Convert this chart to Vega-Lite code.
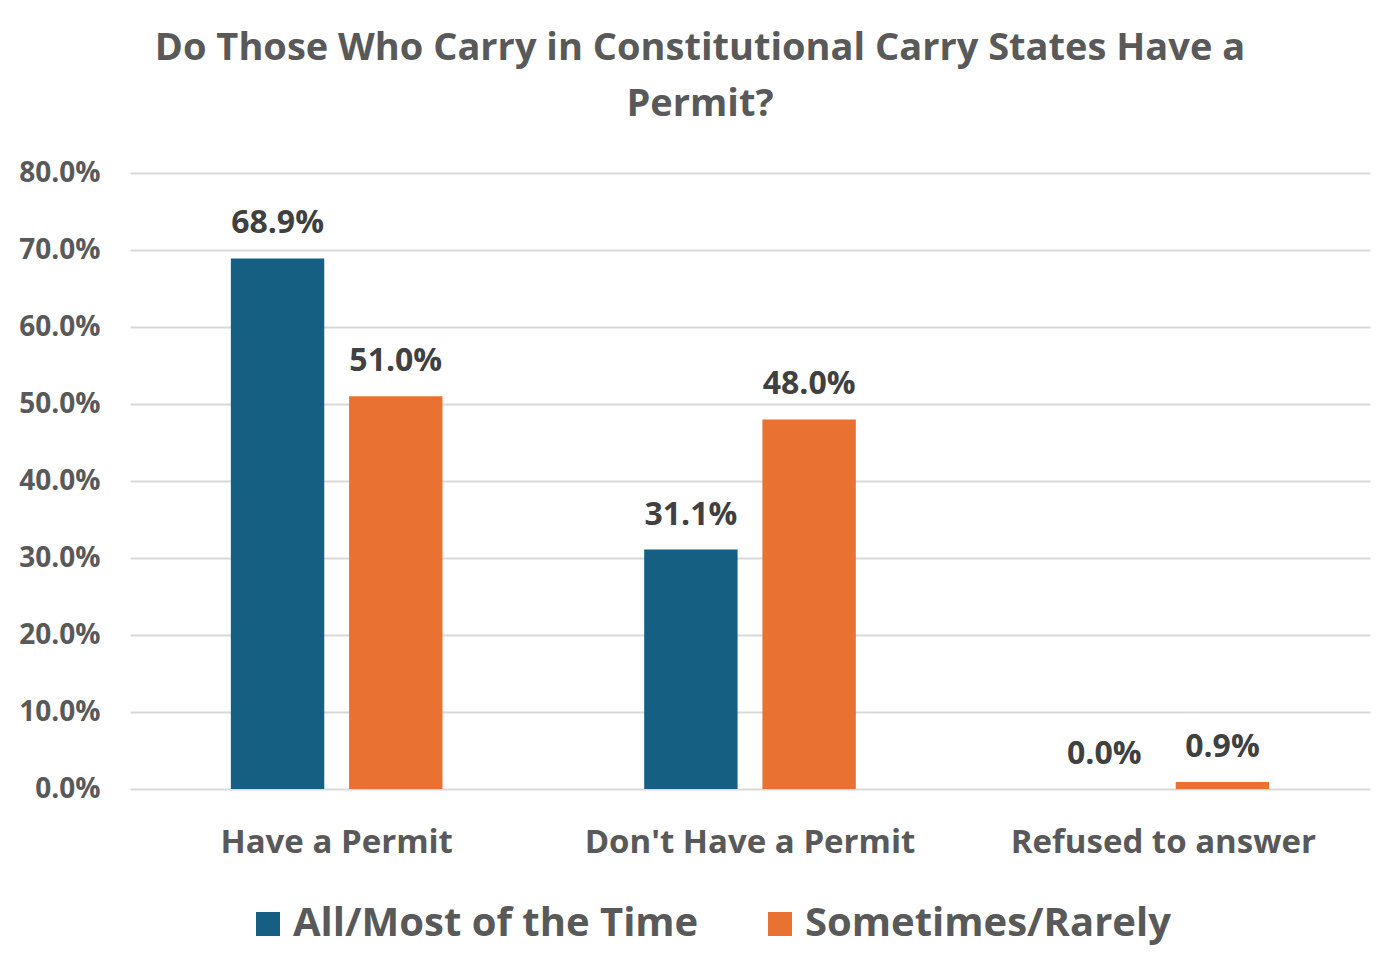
{
  "$schema": "https://vega.github.io/schema/vega-lite/v6.json",
  "autosize": "none",
  "width": 1240,
  "height": 616,
  "padding": {"left": 130, "top": 173, "right": 30, "bottom": 188},
  "background": "white",
  "title": {
    "text": ["Do Those Who Carry in Constitutional Carry States Have a", "Permit?"],
    "fontSize": 38,
    "fontWeight": "bold",
    "font": "Open Sans",
    "color": "#595959",
    "lineHeight": 56,
    "anchor": "middle",
    "dx": -50,
    "offset": 35
  },
  "data": {
    "values": [
      {"answer": "Have a Permit", "group": "All/Most of the Time", "share": 0.689},
      {"answer": "Have a Permit", "group": "Sometimes/Rarely", "share": 0.51},
      {"answer": "Don't Have a Permit", "group": "All/Most of the Time", "share": 0.311},
      {"answer": "Don't Have a Permit", "group": "Sometimes/Rarely", "share": 0.48},
      {"answer": "Refused to answer", "group": "All/Most of the Time", "share": 0.0},
      {"answer": "Refused to answer", "group": "Sometimes/Rarely", "share": 0.009}
    ]
  },
  "encoding": {
    "x": {
      "field": "answer",
      "type": "nominal",
      "sort": null,
      "scale": {"paddingInner": 0.488, "paddingOuter": 0.244},
      "axis": {
        "title": null,
        "labelAngle": 0,
        "labelFontSize": 33,
        "labelFont": "Open Sans",
        "labelFontWeight": "bold",
        "labelColor": "#595959",
        "labelPadding": 37,
        "labelLimit": 500,
        "ticks": false,
        "domain": false
      }
    },
    "xOffset": {
      "field": "group",
      "type": "nominal",
      "sort": null,
      "scale": {"paddingInner": 0.21, "paddingOuter": 0}
    },
    "y": {
      "field": "share",
      "type": "quantitative",
      "scale": {"domain": [0, 0.8], "nice": false},
      "axis": {
        "title": null,
        "format": ".1%",
        "values": [0, 0.1, 0.2, 0.3, 0.4, 0.5, 0.6, 0.7, 0.8],
        "labelOverlap": false,
        "labelFontSize": 28,
        "labelFont": "Open Sans",
        "labelFontWeight": "bold",
        "labelColor": "#595959",
        "labelPadding": 30,
        "ticks": false,
        "domain": false,
        "gridColor": "#d9d9d9",
        "gridWidth": 2
      }
    }
  },
  "layer": [
    {
      "mark": {"type": "bar"},
      "encoding": {
        "color": {
          "field": "group",
          "type": "nominal",
          "sort": null,
          "scale": {"range": ["#156082", "#E97132"]},
          "legend": {
            "title": null,
            "orient": "none",
            "direction": "horizontal",
            "legendX": 118,
            "legendY": 731,
            "symbolType": "square",
            "symbolSize": 576,
            "symbolStrokeWidth": 0,
            "labelFontSize": 40,
            "labelFont": "Open Sans",
            "labelFontWeight": "bold",
            "labelColor": "#595959",
            "labelOffset": 5,
            "columnPadding": 61,
            "labelLimit": 600
          }
        }
      }
    },
    {
      "mark": {
        "type": "text",
        "baseline": "bottom",
        "dy": -18,
        "fontSize": 32,
        "font": "Open Sans",
        "fontWeight": "bold",
        "color": "#404040"
      },
      "encoding": {
        "text": {"field": "share", "type": "quantitative", "format": ".1%"}
      }
    }
  ],
  "config": {
    "view": {"stroke": null}
  }
}
